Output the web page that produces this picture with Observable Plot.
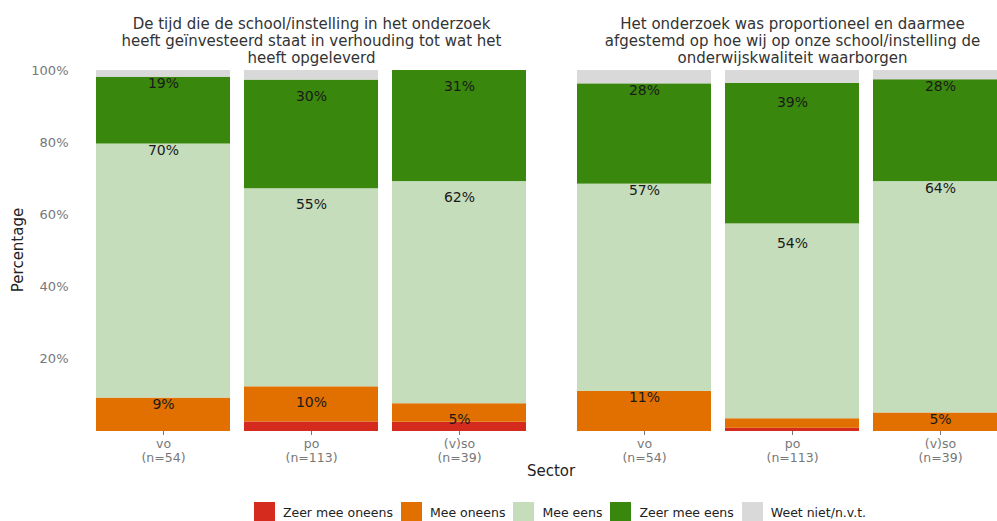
<!DOCTYPE html>
<html><head><meta charset="utf-8">
<script src="https://cdn.jsdelivr.net/npm/d3@7"></script>
<script src="https://cdn.jsdelivr.net/npm/@observablehq/plot@0.6"></script>
<style>
html,body{margin:0;padding:0;background:#fff;overflow:hidden;}
#wrap{position:relative;width:1120px;height:521px;font-family:"DejaVu Sans",Verdana,sans-serif;}
#ylab{position:absolute;left:18px;top:250px;transform:translate(-50%,-50%) rotate(-90deg);font-size:15px;color:#222;white-space:nowrap;}
#xlab{position:absolute;left:551px;top:471px;transform:translate(-50%,-50%);font-size:15px;color:#222;}
#legend{position:absolute;left:0;width:1120px;top:502px;display:flex;justify-content:center;align-items:center;font-size:12.5px;color:#222;}
.item{display:flex;align-items:center;margin:0 4px;}
.sw{width:21px;height:20px;margin-right:8px;}
</style></head><body><div id="wrap"></div>
<script>
const questions = ["tijd", "proportioneel"];
const questionTitles = [
  "De tijd die de school/instelling in het onderzoek\nheeft geïnvesteerd staat in verhouding tot wat het\nheeft opgeleverd",
  "Het onderzoek was proportioneel en daarmee\nafgestemd op hoe wij op onze school/instelling de\nonderwijskwaliteit waarborgen"
];
const sectors = ["vo", "po", "(v)so"];
const sectorN = [54, 113, 39];
const categories = ["Zeer mee oneens", "Mee oneens", "Mee eens", "Zeer mee eens", "Weet niet/n.v.t."];
const colors = ["#d52b1e", "#e17000", "#c5ddbb", "#39870c", "#d9d9d9"];
const yTicks = [20, 40, 60, 80, 100];
// percentages per sector (vo, po, (v)so), per category in the order above
const tijdValues = [
  [0, 9.26, 70.37, 18.52, 1.85],
  [2.65, 9.73, 54.87, 30.09, 2.65],
  [2.56, 5.13, 61.54, 30.77, 0]
];
const proportioneelValues = [
  [0, 11.11, 57.41, 27.78, 3.70],
  [0.88, 2.65, 53.98, 38.94, 3.54],
  [0, 5.13, 64.10, 28.21, 2.56]
];
const labelMin = 5;

const rows = [];
[tijdValues, proportioneelValues].forEach((vals, qi) => {
  vals.forEach((arr, si) => {
    arr.forEach((v, ci) => rows.push({question: questions[qi], sector: sectors[si], category: categories[ci], value: v}));
  });
});
const labelRows = rows.filter(d => Math.round(d.value) >= labelMin);

const plot = Plot.plot({
  width: 1120, height: 490,
  marginLeft: 89, marginRight: 106, marginTop: 70, marginBottom: 59,
  style: {fontFamily: "'DejaVu Sans', Verdana, sans-serif", fontSize: "12px", color: "#777", background: "#fff", overflow: "visible"},
  fx: {domain: questions, paddingInner: 0.077, paddingOuter: 0, label: null},
  x: {domain: sectors, paddingInner: 0.095, paddingOuter: 0.047, label: null},
  y: {domain: [0, 100], label: null},
  color: {domain: categories, range: colors},
  marks: [
    Plot.barY(rows, {fx: "question", x: "sector", y: "value", fill: "category", z: "category"}),
    Plot.text(labelRows, Plot.stackY2({fx: "question", x: "sector", y: "value", z: "category",
      text: d => Math.round(d.value) + "%", lineAnchor: "top", dy: 1, fill: "#1a1a1a", fontSize: 14})),
    Plot.axisFx({anchor: "top", tickSize: 0, tickPadding: 8, label: null,
      tickFormat: q => questionTitles[questions.indexOf(q)], fontSize: 15, lineHeight: 1.13, fill: "#333"}),
    Plot.axisX({anchor: "bottom", tickSize: 4, tickPadding: 3, label: null,
      tickFormat: s => s + "\n(n=" + sectorN[sectors.indexOf(s)] + ")", fontSize: 12.5, lineHeight: 1.12}),
    Plot.axisY({anchor: "left", ticks: yTicks, tickFormat: d => d + "%", tickSize: 0, tickPadding: 21, label: null, fontSize: 13})
  ]
});
const wrap = document.getElementById("wrap");
wrap.appendChild(plot);
const yl = document.createElement("div"); yl.id = "ylab"; yl.textContent = "Percentage"; wrap.appendChild(yl);
const xl = document.createElement("div"); xl.id = "xlab"; xl.textContent = "Sector"; wrap.appendChild(xl);
const lg = document.createElement("div"); lg.id = "legend";
categories.forEach((c, i) => {
  const it = document.createElement("div"); it.className = "item";
  const sw = document.createElement("div"); sw.className = "sw"; sw.style.background = colors[i];
  const t = document.createElement("span"); t.textContent = c;
  it.appendChild(sw); it.appendChild(t); lg.appendChild(it);
});
wrap.appendChild(lg);
</script></body></html>
